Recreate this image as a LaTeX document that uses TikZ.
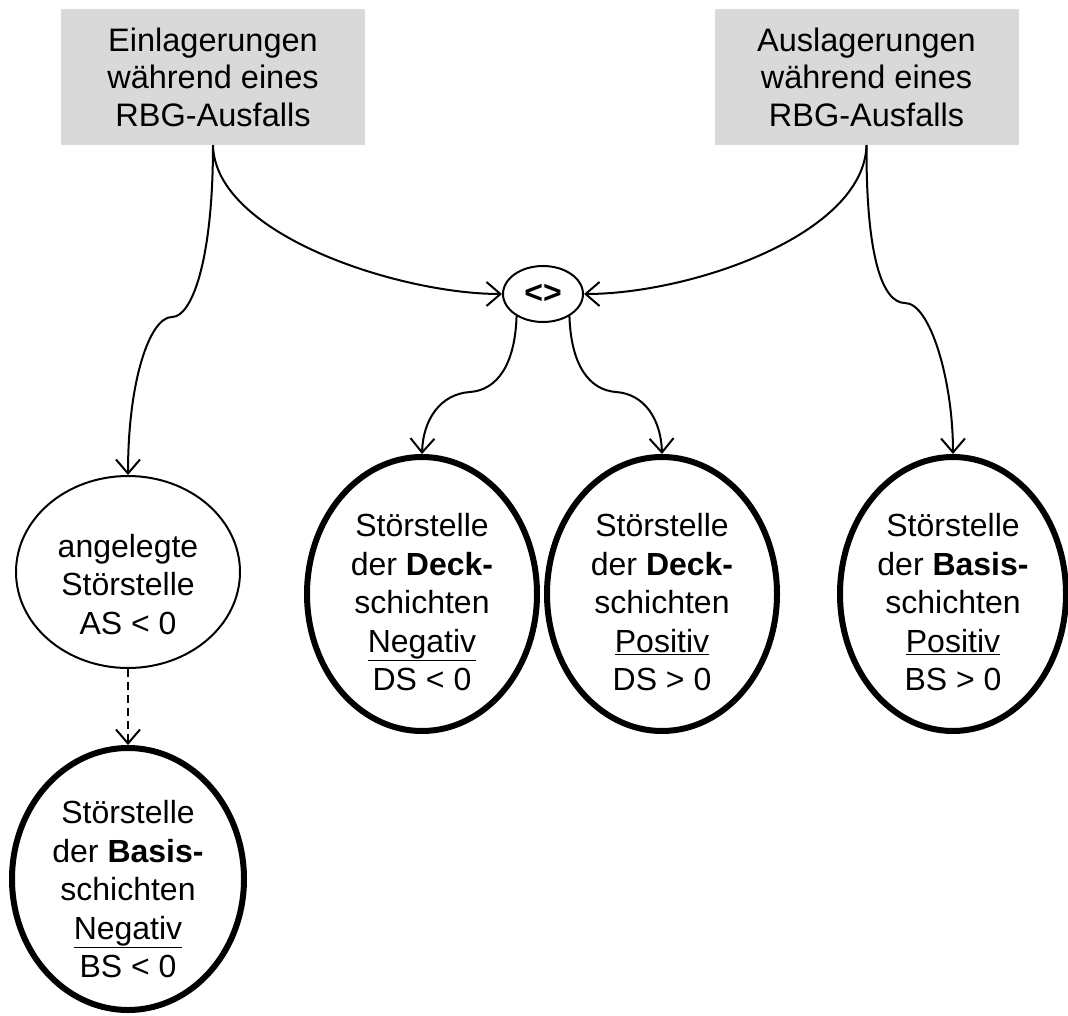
\documentclass[tikz,border=0pt]{standalone}
\usepackage{fontspec}
\setmainfont{Liberation Sans}
\usetikzlibrary{shapes.geometric,arrows.meta}
\definecolor{boxgray}{HTML}{D9D9D9}
\newcommand{\topgap}[1]{\rule{0pt}{#1}}
\tikzset{
  headbox/.style={fill=boxgray, draw=none, minimum width=304pt, minimum height=136pt, inner sep=0pt, align=center, font=\fontsize{32.5}{37.5}\selectfont},
  thinell/.style={ellipse, draw, line width=2pt, inner xsep=0pt, inner ysep=0pt, align=center, font=\fontsize{32}{38.5}\selectfont},
  thickell/.style={ellipse, draw, line width=6pt, inner xsep=0pt, inner ysep=-30pt, align=center, font=\fontsize{32}{38.5}\selectfont},
  conn/.style={line width=2pt, -{Straight Barb[length=14pt,width=24pt,line width=2pt]}},
}
\begin{document}
\begin{tikzpicture}[x=1pt,y=-1pt]
\useasboundingbox (0,0) rectangle (1068,1016);
% header boxes
\node[headbox] (ein) at (213,77) {Einlagerungen\\während eines\\RBG-Ausfalls};
\node[headbox] (aus) at (866.5,77) {Auslagerungen\\während eines\\RBG-Ausfalls};
% merge node
\node[thinell, minimum width=80pt, minimum height=56pt] (or) at (543,294) {\textbf{<>}};
% result nodes
\node[thinell, inner ysep=-30pt, minimum width=224pt, minimum height=192pt] (as) at (128,572) {\topgap{48pt}angelegte\\Störstelle\\AS < 0};
\node[thickell, minimum width=230pt, minimum height=274pt] (dsn) at (422,594) {\topgap{40pt}Störstelle\\der \textbf{Deck-}\\schichten\\\underline{Negativ}\\DS < 0};
\node[thickell, minimum width=230pt, minimum height=274pt] (dsp) at (662,594) {\topgap{40pt}Störstelle\\der \textbf{Deck-}\\schichten\\\underline{Positiv}\\DS > 0};
\node[thickell, minimum width=226pt, minimum height=274pt] (bsp) at (953,594) {\topgap{40pt}Störstelle\\der \textbf{Basis-}\\schichten\\\underline{Positiv}\\BS > 0};
\node[thickell, minimum width=232pt, minimum height=262pt] (bsn) at (128,879) {\topgap{44pt}Störstelle\\der \textbf{Basis-}\\schichten\\\underline{Negativ}\\BS < 0};
% connectors
\draw[conn] (ein.south) .. controls (215,235) and (400,294) .. (or.west);
\draw[conn] (aus.south) .. controls (864,235) and (690,294) .. (or.east);
\draw[conn] (ein.south) .. controls (213,260) and (192,317) .. (172,317)
  .. controls (150,317) and (128,380) .. (as.north);
\draw[conn] (aus.south) .. controls (866,255) and (882,303) .. (905,303)
  .. controls (930,303) and (953,380) .. (bsp.north);
\draw[conn] (or.-140) .. controls (515,365) and (497,390) .. (470,392)
  .. controls (440,394) and (423,420) .. (dsn.north);
\draw[conn] (or.-40) .. controls (571,365) and (589,390) .. (616,392)
  .. controls (645,394) and (661,420) .. (dsp.north);
\draw[conn, dash pattern=on 8pt off 5pt] (as.south) -- (bsn.north);
\end{tikzpicture}
\end{document}
